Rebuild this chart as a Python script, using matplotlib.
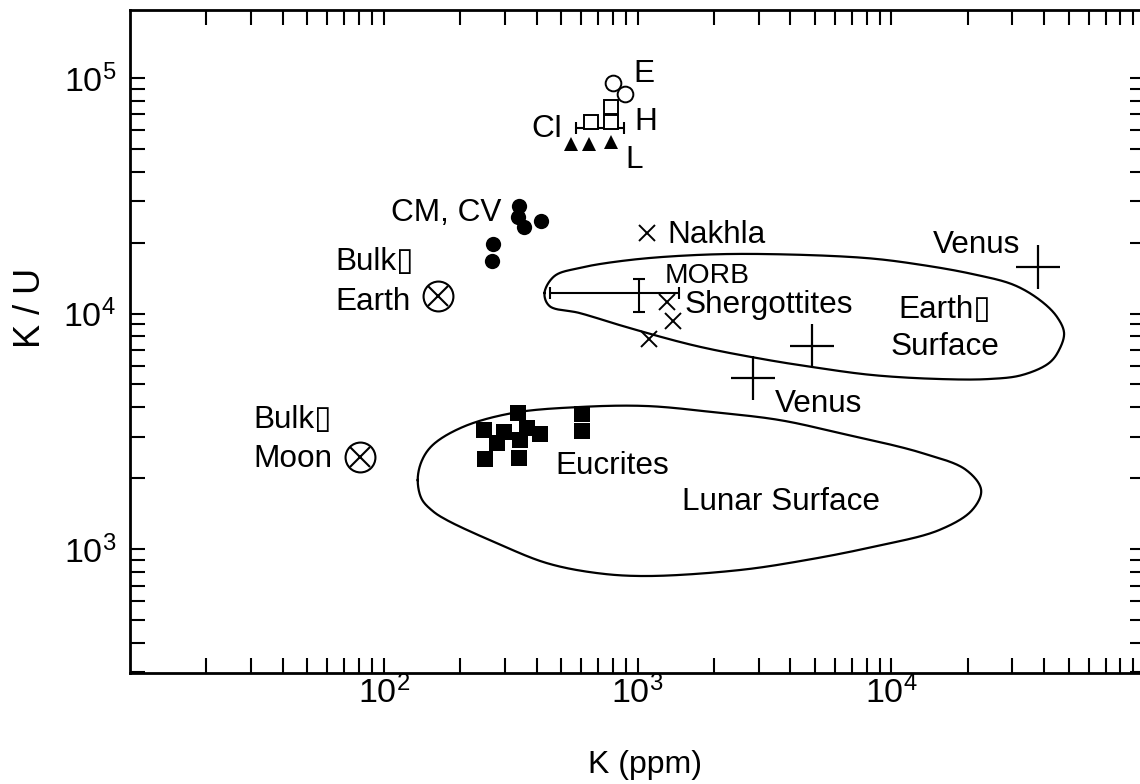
import numpy as np
import matplotlib
matplotlib.use("Agg")
import matplotlib.pyplot as plt
from matplotlib.ticker import FixedLocator, FixedFormatter, LogLocator, NullFormatter

plt.rcParams['font.family'] = ['Liberation Sans', 'DejaVu Sans']
plt.rcParams['mathtext.fontset'] = 'custom'
plt.rcParams['mathtext.rm'] = 'Liberation Sans'
plt.rcParams['mathtext.it'] = 'Liberation Sans:italic'
plt.rcParams['mathtext.bf'] = 'Liberation Sans:bold'

# ---------------- data ----------------
# E chondrites (open circles)
e_k = [801, 893]
e_ku = [95200, 85500]
# H chondrites (open squares)
h_k = [787, 656, 787]
h_ku = [75300, 65000, 65000]
# CI range (error bar)
ci_k = 711
ci_ku = 61300
ci_k_lo = 572
ci_k_hi = 885
# L chondrites (filled triangles)
l_k = [547, 644, 787]
l_ku = [52400, 52400, 53500]
# CM, CV (filled circles)
cmcv_k = [341, 338, 357, 417, 270, 267]
cmcv_ku = [28600, 25700, 23300, 24700, 19700, 16700]
# Bulk Earth / Bulk Moon
bulk_earth_k, bulk_earth_ku = 164, 11900
bulk_moon_k, bulk_moon_ku = 80.6, 2460
# Nakhla, Shergottites
nakhla_k, nakhla_ku = 1090, 22000
sherg_k = [1307, 1380, 1110]
sherg_ku = [11200, 9300, 7800]
# MORB
morb_k, morb_ku = 1014, 12200
morb_k_lo, morb_k_hi = 452, 1457
morb_ku_lo, morb_ku_hi = 10150, 14000
# Venus
venus_k = [37900, 4870, 2850]
venus_ku = [15800, 7280, 5320]
# Eucrites (filled squares)
eucrite_k = [338, 604, 604, 249, 298, 367, 413, 344, 279, 251, 341]
eucrite_ku = [3780, 3740, 3170, 3200, 3140, 3260, 3080, 2900, 2820, 2410, 2430]

# Earth surface field outline
earth_field_k = [430, 471, 591, 930, 1707, 3106, 7973, 13240, 20840, 30500, 38960,
                 45030, 47980, 45850, 41880, 32790, 24310, 15450, 8419, 4887, 3106,
                 1707, 930, 591, 450]
earth_field_ku = [12220, 14430, 15610, 16870, 17720, 17890, 17200, 16070, 14720, 13210,
                  11300, 9663, 8263, 6998, 6164, 5480, 5271, 5271, 5480, 5926, 6410,
                  7278, 8679, 10050, 10760]
# Lunar surface field outline
lunar_field_k = [136.1, 141.1, 155.9, 204.7, 321.9, 591.2, 1085, 1974, 3624, 6243, 13240,
                 19740, 22610, 20840, 15450, 8419, 4628, 2521, 1085, 689.4, 438.3, 278.5,
                 177.0, 155.9, 141.1]
lunar_field_ku = [1963, 2364, 2764, 3296, 3780, 4009, 4048, 3816, 3530, 3109, 2556, 2165,
                  1780, 1464, 1204, 1020, 898, 814, 768, 791, 872, 1060, 1328, 1450, 1631]

x_ticks = [1e2, 1e3, 1e4]
x_tick_labels = [r'$\mathregular{10^{2}}$', r'$\mathregular{10^{3}}$', r'$\mathregular{10^{4}}$']
y_ticks = [1e3, 1e4, 1e5]
y_tick_labels = [r'$\mathregular{10^{3}}$', r'$\mathregular{10^{4}}$', r'$\mathregular{10^{5}}$']

BOX = '\u25af'


def smooth_closed(xs, ys, n=30):
    """Centripetal Catmull-Rom closed curve through the outline vertices (log space)."""
    P = np.column_stack([np.log10(xs) * 254.0, np.log10(ys) * 235.5])
    N = len(P)
    segs = []
    for i in range(N):
        p0, p1, p2, p3 = P[(i - 1) % N], P[i], P[(i + 1) % N], P[(i + 2) % N]

        def tj(ti, a, b):
            return ti + np.linalg.norm(b - a) ** 0.5
        t0 = 0.0
        t1 = tj(t0, p0, p1)
        t2 = tj(t1, p1, p2)
        t3 = tj(t2, p2, p3)
        t = np.linspace(t1, t2, n, endpoint=False)[:, None]
        A1 = (t1 - t) / (t1 - t0) * p0 + (t - t0) / (t1 - t0) * p1
        A2 = (t2 - t) / (t2 - t1) * p1 + (t - t1) / (t2 - t1) * p2
        A3 = (t3 - t) / (t3 - t2) * p2 + (t - t2) / (t3 - t2) * p3
        B1 = (t2 - t) / (t2 - t0) * A1 + (t - t0) / (t2 - t0) * A2
        B2 = (t3 - t) / (t3 - t1) * A2 + (t - t1) / (t3 - t1) * A3
        C = (t2 - t) / (t2 - t1) * B1 + (t - t1) / (t2 - t1) * B2
        segs.append(C)
    out = np.vstack(segs + [P[:1]])
    return 10 ** (out[:, 0] / 254.0), 10 ** (out[:, 1] / 235.5)


# ---------------- figure ----------------
W, H = 1140, 784
fig = plt.figure(figsize=(W / 100, H / 100), dpi=100)
ax = fig.add_axes([130 / W, 1 - 673 / H, 1015 / W, 663 / H])
ax.set_xscale('log')
ax.set_yscale('log')
ax.set_xlim(10, 1e5)
ax.set_ylim(297.6, 194400)

LW = 1.6
# fields
fx, fy = smooth_closed(earth_field_k, earth_field_ku)
ax.plot(fx, fy, color='black', lw=LW, zorder=1, solid_joinstyle='round')
fx, fy = smooth_closed(lunar_field_k, lunar_field_ku)
ax.plot(fx, fy, color='black', lw=LW, zorder=1, solid_joinstyle='round')

# points
ax.plot(e_k, e_ku, 'o', ms=11.3, mfc='white', mec='black', mew=1.4, ls='none', zorder=3)
ax.plot(h_k, h_ku, 's', ms=10.6, mfc='white', mec='black', mew=1.4, ls='none', zorder=3)
ax.errorbar([ci_k], [ci_ku], xerr=[[ci_k - ci_k_lo], [ci_k_hi - ci_k]], fmt='none',
            ecolor='black', elinewidth=1.5, capsize=4.3, capthick=1.5, zorder=2)
ax.plot(l_k, l_ku, '^', ms=10, color='black', mew=0, ls='none', zorder=3)
ax.plot(cmcv_k, cmcv_ku, 'o', ms=11, color='black', mew=0, ls='none', zorder=3)
for bk, bu in [(bulk_earth_k, bulk_earth_ku), (bulk_moon_k, bulk_moon_ku)]:
    ax.plot([bk], [bu], 'o', ms=21.5, mfc='none', mec='black', mew=1.5, zorder=3)
    ax.plot([bk], [bu], 'x', ms=15, color='black', mew=1.5, zorder=3)
ax.plot([nakhla_k], [nakhla_ku], 'x', ms=12, color='black', mew=1.4, zorder=3)
ax.plot(sherg_k, sherg_ku, 'x', ms=11.5, color='black', mew=1.4, ls='none', zorder=3)
ax.errorbar([morb_k], [morb_ku],
            xerr=[[morb_k - morb_k_lo], [morb_k_hi - morb_k]],
            yerr=[[morb_ku - morb_ku_lo], [morb_ku_hi - morb_ku]],
            fmt='none', ecolor='black', elinewidth=1.5, capsize=4.5, capthick=1.5, zorder=2)
ax.plot(venus_k, venus_ku, '+', ms=31, color='black', mew=1.6, ls='none', zorder=3)
ax.plot(eucrite_k, eucrite_ku, 's', ms=12, color='black', mew=0, ls='none', zorder=3)

# labels
FS = 22.7
def lab(x, y, s, ha='left', fs=FS):
    ax.text(x, y, s, ha=ha, va='baseline', fontsize=fs, zorder=4)

lab(960, 96200, 'E')
lab(969, 60150, 'H')
lab(508, 56180, 'CI', ha='right')
lab(893, 41480, 'L')
lab(292, 24710, 'CM, CV', ha='right')
lab(64.3, 15300, 'Bulk' + BOX)
lab(64.3, 10350, 'Earth')
lab(30.5, 3264, 'Bulk' + BOX)
lab(30.5, 2230, 'Moon')
lab(1307, 19930, 'Nakhla')
lab(1284, 13470, 'MORB', fs=20.3)
lab(1539, 10050, 'Shergottites')
lab(14600, 18070, 'Venus')
lab(3483, 3816, 'Venus')
lab(16290, 9570, 'Earth' + BOX, ha='center')
lab(16290, 6664, 'Surface', ha='center')
lab(473, 2082, 'Eucrites')
lab(1498, 1464, 'Lunar Surface')

# axes styling
ax.xaxis.set_major_locator(FixedLocator(x_ticks))
ax.xaxis.set_major_formatter(FixedFormatter(x_tick_labels))
ax.yaxis.set_major_locator(FixedLocator(y_ticks))
ax.yaxis.set_major_formatter(FixedFormatter(y_tick_labels))
ax.xaxis.set_minor_locator(LogLocator(base=10, subs=np.arange(2, 10), numticks=20))
ax.yaxis.set_minor_locator(LogLocator(base=10, subs=np.arange(2, 10), numticks=20))
ax.xaxis.set_minor_formatter(NullFormatter())
ax.yaxis.set_minor_formatter(NullFormatter())
ax.tick_params(which='both', direction='in', length=10.8, width=1.5,
               top=True, right=True, labelsize=24.5)
ax.tick_params(axis='x', which='major', pad=2)
ax.tick_params(axis='y', which='major', pad=10)
for sp in ax.spines.values():
    sp.set_linewidth(2.0)

ax.set_xlabel('K (ppm)', fontsize=23)
ax.set_ylabel('K / U', fontsize=26)
ax.xaxis.set_label_coords((645 - 130) / 1015, (673 - 750) / 663)
ax.yaxis.set_label_coords((48 - 130) / 1015, (673 - 308) / 663)

fig.savefig('out.png', dpi=100)
